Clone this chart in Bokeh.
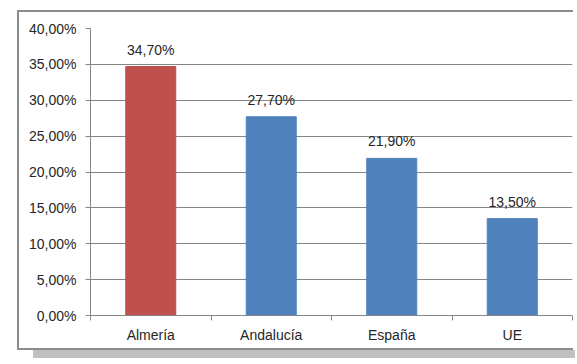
from bokeh.plotting import figure
from bokeh.models import ColumnDataSource, FixedTicker, Range1d, LabelSet, Spacer
from bokeh.layouts import column
from bokeh.core.properties import value
from bokeh.embed import file_html
from bokeh.resources import INLINE

categories = ["Almería", "Andalucía", "España", "UE"]
values = [0.347, 0.277, 0.219, 0.135]
value_labels = ["34,70%", "27,70%", "21,90%", "13,50%"]
colors = ["#C0504D", "#4F81BD", "#4F81BD", "#4F81BD"]
y_ticks = [0.0, 0.05, 0.10, 0.15, 0.20, 0.25, 0.30, 0.35, 0.40]
y_tick_labels = ["0,00%", "5,00%", "10,00%", "15,00%", "20,00%", "25,00%", "30,00%", "35,00%", "40,00%"]

xs = [i + 0.5 for i in range(len(categories))]
src = ColumnDataSource(dict(x=xs, top=values, color=colors, label=value_labels))

FONT = "Liberation Sans"
GRAY = "#868686"
TXT = "#262626"

p = figure(width=556, height=340, output_backend="svg", toolbar_location=None,
           x_range=Range1d(0, 4), y_range=Range1d(0, 0.40),
           min_border_left=71, min_border_right=3, min_border_top=16, min_border_bottom=37)
p.margin = (10, 0, 0, 17)
p.styles = {"border-top": "2px solid #8c8c8c", "border-left": "2px solid #8c8c8c",
            "border-bottom": "2px solid #8c8c8c", "background": "white"}
p.outline_line_color = None
p.background_fill_color = "white"
p.border_fill_color = "white"

p.vbar(x="x", top="top", width=0.415, bottom=0, color="color", source=src)

labels = LabelSet(x="x", y="top", text="label", source=src, text_align="center",
                  text_baseline="bottom", y_offset=9, text_font=value(FONT),
                  text_font_size=value("14px"), text_color=TXT)
p.add_layout(labels)

# x axis
p.xaxis.ticker = FixedTicker(ticks=xs, minor_ticks=[0, 1, 2, 3, 4])
p.xaxis.major_label_overrides = {x: c for x, c in zip(xs, categories)}
p.xaxis.major_tick_line_color = None
p.xaxis.minor_tick_line_color = GRAY
p.xaxis.minor_tick_out = 5
p.xaxis.minor_tick_in = 0
p.xaxis.axis_line_color = GRAY
p.xaxis.major_label_text_font = FONT
p.xaxis.major_label_text_font_size = "14px"
p.xaxis.major_label_text_color = TXT
p.xaxis.major_label_standoff = 5
p.xgrid.grid_line_color = None

# y axis
p.yaxis.ticker = FixedTicker(ticks=y_ticks, minor_ticks=[])
p.yaxis.major_label_overrides = {t: l for t, l in zip(y_ticks, y_tick_labels)}
p.yaxis.axis_line_color = GRAY
p.yaxis.major_tick_line_color = GRAY
p.yaxis.major_tick_out = 5
p.yaxis.major_tick_in = 0
p.yaxis.major_label_text_font = FONT
p.yaxis.major_label_text_font_size = "14px"
p.yaxis.major_label_text_color = TXT
p.yaxis.major_label_standoff = 9
p.ygrid.grid_line_color = GRAY
p.ygrid.grid_line_width = 1

shadow = Spacer(width=542, height=8, margin=(0, 0, 0, 33), styles={"background": "#c0c0c0"})

layout = column(p, shadow)
open("out.html", "w").write(file_html(layout, INLINE))
